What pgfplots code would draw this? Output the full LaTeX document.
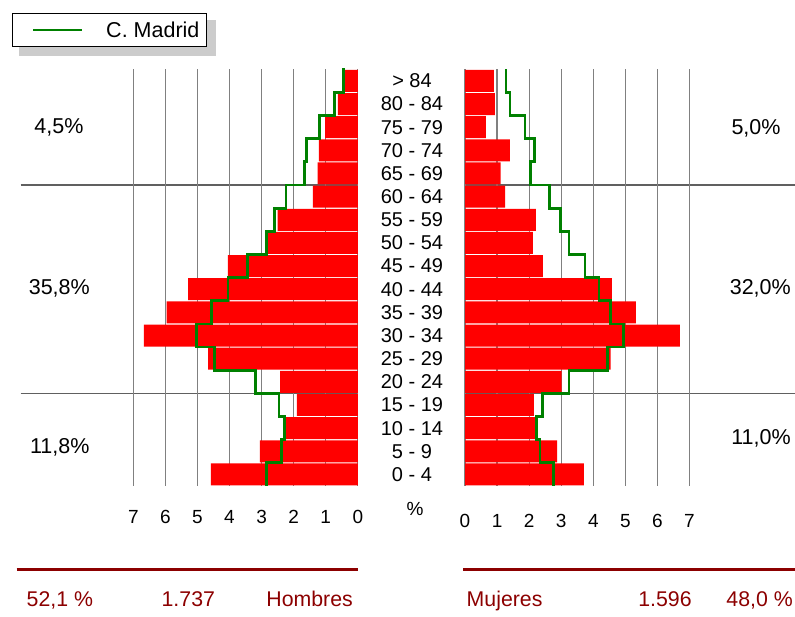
\documentclass[border=0pt]{standalone}
\usepackage{fontspec}
\setmainfont{Liberation Sans}
\usepackage{pgfplots}
\pgfplotsset{compat=1.18}
\definecolor{madgreen}{RGB}{0,128,0}
\definecolor{darkred}{RGB}{140,0,0}
\definecolor{gridgray}{RGB}{128,128,128}
\definecolor{sepgray}{RGB}{96,96,96}

\pgfplotsset{
  pyr/.style={
    scale only axis, width=224.5pt, height=416.7pt,
    xmin=0, xmax=7, ymin=-0.5, ymax=17.5,
    axis line style={draw=none},
    major tick length=0pt,
    xtick={0,...,7},
    xmajorgrids, grid style={gridgray, line width=1.2pt},
    /pgf/number format/assume math mode=true,
    xticklabel style={font=\fontsize{19}{19}\selectfont, anchor=base, inner sep=0pt},
    clip=false,
    anchor=south west,
  }
}

\begin{document}
\begin{tikzpicture}[x=1pt,y=1pt]
\path[use as bounding box] (0,0) rectangle (795,617);
% legend shadow
\fill[black!20] (19,561.3) rectangle (216,597);
% group separators
\draw[sepgray, line width=1.2pt] (20.7,432) -- (357.7,432);
\draw[sepgray, line width=1.2pt] (20.7,223.6) -- (357.7,223.6);
\draw[sepgray, line width=1.2pt] (465,432) -- (795,432);
\draw[sepgray, line width=1.2pt] (465,223.6) -- (795,223.6);

% Hombres
\begin{axis}[pyr, at={(133.3pt,131pt)}, x dir=reverse, ytick=\empty,
  xticklabel style={yshift=-38pt},
  legend style={at={(axis description cs:-0.5419,1.1358)}, anchor=north west,
    draw=black, line width=1pt, fill=white,
    font=\fontsize{21.5}{21.5}\selectfont,
    inner sep=0pt, row sep=0pt, column sep=0pt, nodes={inner sep=0pt}},
  legend image code/.code={\path[draw=none,fill=none] (0pt,-16.8pt) rectangle (94.1pt,16.8pt);
    \draw[#1, line width=2.8pt] (21.1pt,0pt) -- (69.5pt,0pt);}
]
\addplot[xbar, bar width=22pt, fill=red, draw=none, forget plot] coordinates {
(4.58,0) (3.05,1) (2.24,2) (1.90,3) (2.42,4) (4.67,5) (6.67,6) (5.96,7) (5.29,8)
(4.05,9) (2.89,10) (2.50,11) (1.40,12) (1.25,13) (1.21,14) (1.02,15) (0.62,16) (0.42,17)};
\addplot[madgreen, line width=2.8pt] coordinates {
(2.84,-0.5) (2.84,0.5) (2.39,0.5) (2.39,1.5) (2.29,1.5) (2.29,2.5) (2.46,2.5) (2.46,3.5)
(3.20,3.5) (3.20,4.5) (4.47,4.5) (4.47,5.5) (5.04,5.5) (5.04,6.5) (4.56,6.5) (4.56,7.5)
(4.05,7.5) (4.05,8.5) (3.44,8.5) (3.44,9.5) (2.84,9.5) (2.84,10.5) (2.60,10.5) (2.60,11.5)
(2.24,11.5) (2.24,12.5) (1.67,12.5) (1.67,13.5) (1.59,13.5) (1.59,14.5) (1.20,14.5) (1.20,15.5)
(0.73,15.5) (0.73,16.5) (0.45,16.5) (0.45,17.55)};
\addlegendentry{C. Madrid\hspace*{7pt}}
\end{axis}

% Mujeres
\begin{axis}[pyr, at={(465pt,131pt)},
  xticklabel style={yshift=-41.3pt},
  ytick={0,...,17},
  yticklabels={0 - 4,5 - 9,10 - 14,15 - 19,20 - 24,25 - 29,30 - 34,35 - 39,40 - 44,45 - 49,50 - 54,55 - 59,60 - 64,65 - 69,70 - 74,75 - 79,80 - 84,> 84},
  yticklabel style={anchor=center, xshift=-53pt, font=\fontsize{20}{20}\selectfont, inner sep=0pt}
]
\addplot[xbar, bar width=22pt, fill=red, draw=none] coordinates {
(3.71,0) (2.87,1) (2.21,2) (2.15,3) (3.01,4) (4.54,5) (6.70,6) (5.33,7) (4.58,8)
(2.43,9) (2.12,10) (2.21,11) (1.25,12) (1.11,13) (1.40,14) (0.65,15) (0.93,16) (0.90,17)};
\addplot[madgreen, line width=2.8pt] coordinates {
(2.77,-0.5) (2.77,0.5) (2.34,0.5) (2.34,1.5) (2.23,1.5) (2.23,2.5) (2.42,2.5) (2.42,3.5)
(3.24,3.5) (3.24,4.5) (4.45,4.5) (4.45,5.5) (4.93,5.5) (4.93,6.5) (4.54,6.5) (4.54,7.5)
(4.18,7.5) (4.18,8.5) (3.74,8.5) (3.74,9.5) (3.24,9.5) (3.24,10.5) (2.99,10.5) (2.99,11.5)
(2.63,11.5) (2.63,12.5) (2.05,12.5) (2.05,13.5) (2.16,13.5) (2.16,14.5) (1.87,14.5) (1.87,15.5)
(1.40,15.5) (1.40,16.5) (1.28,16.5) (1.28,17.5)};
\end{axis}

% percent unit
\node[anchor=base, inner sep=0pt, font=\fontsize{19}{19}\selectfont] at (415,101) {\%};

% group percentages
\begin{scope}[every node/.style={anchor=base, inner sep=0pt, font=\fontsize{21.5}{21.5}\selectfont}]
\node at (59,483.7) {4,5\%};
\node at (59.3,322.7) {35,8\%};
\node at (59.7,163.7) {11,8\%};
\node at (756,482.7) {5,0\%};
\node at (760.3,322) {32,0\%};
\node at (761,172) {11,0\%};
\end{scope}

% bottom totals
\draw[darkred, line width=3.3pt] (16.7,47.7) -- (357.7,47.7);
\draw[darkred, line width=3.3pt] (463.3,47.7) -- (795,47.7);
\begin{scope}[every node/.style={inner sep=0pt, text=darkred, font=\fontsize{21.3}{21.3}\selectfont}]
\node[anchor=base west] at (26.5,10.3) {52,1 \%};
\node[anchor=base] at (188.3,10.3) {1.737};
\node[anchor=base east] at (353,10.3) {Hombres};
\node[anchor=base west] at (466.5,10.3) {Mujeres};
\node[anchor=base] at (665,10.3) {1.596};
\node[anchor=base east] at (793,10.3) {48,0 \%};
\end{scope}
\end{tikzpicture}
\end{document}
